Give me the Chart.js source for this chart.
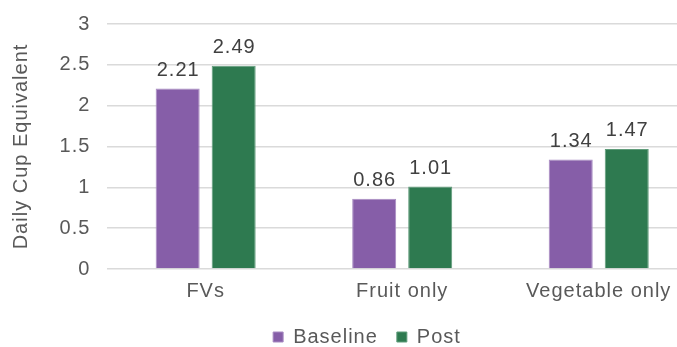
<!DOCTYPE html>
<html>
<head>
<meta charset="utf-8">
<script src="https://cdn.jsdelivr.net/npm/chart.js@4.4.0/dist/chart.umd.min.js"></script>
<style>
  html, body { margin: 0; padding: 0; background: #ffffff; overflow: hidden; width: 677px; height: 347px; }
  #wrap { position: relative; width: 697px; height: 347px; }
</style>
</head>
<body>
<div id="wrap"><canvas id="chart"></canvas></div>
<script>
// Daily cup equivalents of fruit and vegetable intake, before and after
const categories = ['FVs', 'Fruit only', 'Vegetable only'];
const seriesNames = ['Baseline', 'Post'];
const baselineValues = [2.21, 0.86, 1.34];
const postValues = [2.49, 1.01, 1.47];
const yTickValues = [0, 0.5, 1, 1.5, 2, 2.5, 3];
const yTitle = 'Daily Cup Equivalent';

const FONT = '"Liberation Sans", Arial, Helvetica, sans-serif';
const SPACING = '1px';

// Slightly wider letter spacing for all chart text
const textSpacing = {
  id: 'textSpacing',
  beforeUpdate(chart) { chart.ctx.letterSpacing = SPACING; },
  beforeLayout(chart) { chart.ctx.letterSpacing = SPACING; },
  beforeDraw(chart) { chart.ctx.letterSpacing = SPACING; }
};

// Legend sits centred under the whole figure, near the bottom edge
const legendPlacement = {
  id: 'legendPlacement',
  afterLayout(chart) {
    const lg = chart.legend;
    if (!lg) return;
    const dx = 367 - (lg.left + lg.right) / 2;
    lg.left += dx; lg.right += dx;
    const pad = lg.options.labels.padding;
    const dy = 337 - (lg.top + pad + 10);
    lg.top += dy;
    lg.bottom = chart.height;
  }
};

// Value printed above each bar
const valueLabels = {
  id: 'valueLabels',
  afterDatasetsDraw(chart) {
    const ctx = chart.ctx;
    ctx.save();
    ctx.font = '20px ' + FONT;
    ctx.letterSpacing = SPACING;
    ctx.fillStyle = '#404040';
    ctx.textAlign = 'center';
    ctx.textBaseline = 'alphabetic';
    chart.data.datasets.forEach((ds, i) => {
      chart.getDatasetMeta(i).data.forEach((bar, j) => {
        ctx.fillText(ds.data[j].toFixed(2), bar.x + 0.5, bar.y - 13);
      });
    });
    ctx.restore();
  }
};

new Chart(document.getElementById('chart'), {
  type: 'bar',
  data: {
    labels: categories,
    datasets: [
      {
        label: seriesNames[0],
        data: baselineValues,
        backgroundColor: '#865ea8',
        borderColor: '#a88bc2',
        borderWidth: 1,
        categoryPercentage: 0.57,
        barPercentage: 0.786
      },
      {
        label: seriesNames[1],
        data: postValues,
        backgroundColor: '#2e7a50',
        borderColor: '#5f9c7a',
        borderWidth: 1,
        categoryPercentage: 0.57,
        barPercentage: 0.786
      }
    ]
  },
  options: {
    responsive: true,
    maintainAspectRatio: false,
    animation: false,
    devicePixelRatio: 1,
    layout: { padding: { top: 24, left: 0, right: 0, bottom: 0 } },
    plugins: {
      legend: {
        position: 'bottom',
        maxHeight: 30,
        labels: {
          boxWidth: 10,
          boxHeight: 10,
          padding: 19,
          color: '#595959',
          font: { family: FONT, size: 20 }
        }
      },
      tooltip: { enabled: false }
    },
    scales: {
      x: {
        grid: { display: false, drawTicks: false },
        border: { display: false },
        ticks: { color: '#595959', padding: 10, font: { family: FONT, size: 20 } },
        afterFit(scale) {
          const lgH = scale.chart.legend ? scale.chart.legend.height : 0;
          scale.height = 347 - 269 - lgH;
        }
      },
      y: {
        min: 0,
        max: 3,
        afterBuildTicks(scale) { scale.ticks = yTickValues.map(v => ({ value: v })); },
        grid: { color: '#dadada', lineWidth: 1.5, drawTicks: true, tickLength: 17, tickColor: 'rgba(0,0,0,0)' },
        border: { display: false },
        ticks: {
          color: '#595959',
          padding: 0,
          font: { family: FONT, size: 20 },
          callback: (value) => String(value)
        },
        title: {
          display: true,
          text: yTitle,
          color: '#595959',
          font: { family: FONT, size: 20 },
          padding: { top: 9, bottom: 0 }
        },
        afterFit(scale) { scale.width = 107.4; }
      }
    }
  },
  plugins: [textSpacing, legendPlacement, valueLabels]
});
</script>
</body>
</html>
